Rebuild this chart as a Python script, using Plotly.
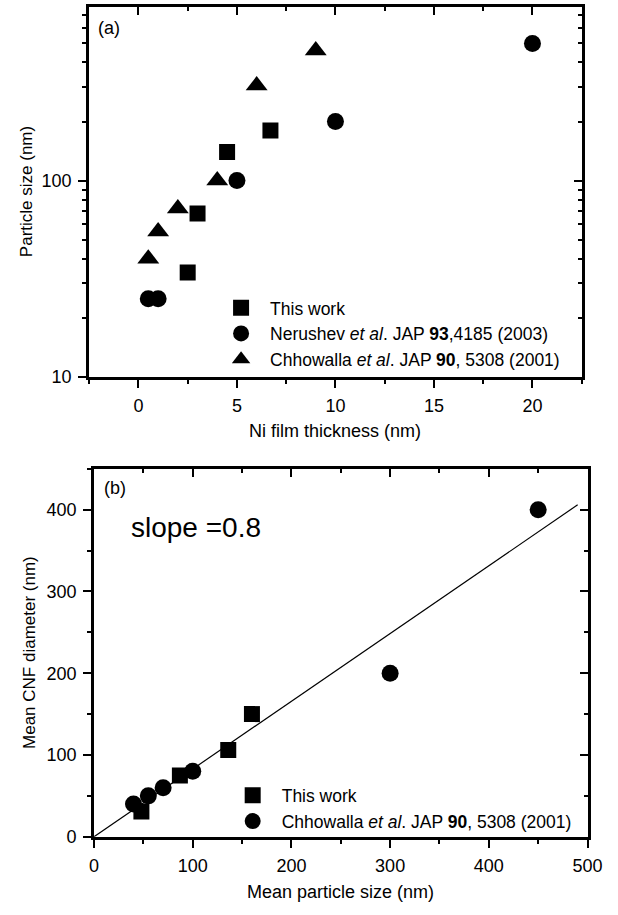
import plotly.graph_objects as go

# ---------------- data: panel (a) ----------------
this_work_thk = [2.5, 3.0, 4.5, 6.7]
this_work_size = [34, 68, 140, 180]
nerushev_thk = [0.5, 1.0, 5.0, 10.0, 20.0]
nerushev_size = [25, 25, 100, 200, 500]
chhowalla_thk = [0.5, 1.0, 2.0, 4.0, 6.0, 9.0]
chhowalla_size = [40, 55, 72, 100, 305, 460]

# ---------------- data: panel (b) ----------------
b_this_work_particle = [48, 87, 136, 160]
b_this_work_cnf = [31, 75, 106, 150]
b_chhowalla_particle = [40, 55, 70, 100, 300, 450]
b_chhowalla_cnf = [40, 50, 60, 80, 200, 400]
fit_particle = [0, 490]
fit_cnf = [0, 406]

W, H = 618, 915
FONT = "Liberation Sans, Arial, Helvetica, sans-serif"
BLACK = "#000000"

def px(x):
    return x / W

def py(y):
    return 1 - y / H

leg1_a = "This work"
leg2_a = "Nerushev <i>et al</i>. JAP <b>93</b>,4185 (2003)"
leg3_a = "Chhowalla <i>et al</i>. JAP <b>90</b>, 5308 (2001)"

fig = go.Figure()

# panel (a)
fig.add_trace(go.Scatter(x=this_work_thk, y=this_work_size, mode="markers", name=leg1_a,
                         marker=dict(symbol="square", size=16, color=BLACK),
                         xaxis="x", yaxis="y", legend="legend"))
fig.add_trace(go.Scatter(x=nerushev_thk, y=nerushev_size, mode="markers", name=leg2_a,
                         marker=dict(symbol="circle", size=17, color=BLACK),
                         xaxis="x", yaxis="y", legend="legend"))
fig.add_trace(go.Scatter(x=chhowalla_thk, y=chhowalla_size, mode="markers", name=leg3_a,
                         marker=dict(symbol="triangle-up", size=19, color=BLACK),
                         xaxis="x", yaxis="y", legend="legend"))
# dummy for overlay axes of (a)
fig.add_trace(go.Scatter(x=[], y=[], xaxis="x3", yaxis="y3", showlegend=False, hoverinfo="skip"))

# panel (b)
fig.add_trace(go.Scatter(x=fit_particle, y=fit_cnf, mode="lines", showlegend=False,
                         line=dict(color=BLACK, width=1.2), xaxis="x2", yaxis="y2"))
fig.add_trace(go.Scatter(x=b_this_work_particle, y=b_this_work_cnf, mode="markers", name="This work",
                         marker=dict(symbol="square", size=16, color=BLACK),
                         xaxis="x2", yaxis="y2", legend="legend2"))
fig.add_trace(go.Scatter(x=b_chhowalla_particle, y=b_chhowalla_cnf, mode="markers", name=leg3_a,
                         marker=dict(symbol="circle", size=17, color=BLACK),
                         xaxis="x2", yaxis="y2", legend="legend2"))
fig.add_trace(go.Scatter(x=[], y=[], xaxis="x4", yaxis="y4", showlegend=False, hoverinfo="skip"))

tickfont = dict(family=FONT, size=18, color=BLACK)

def main_axis(**kw):
    d = dict(showgrid=False, zeroline=False, showline=True, linewidth=3, linecolor=BLACK,
             mirror=True, ticks="outside", ticklen=8, tickwidth=2, tickcolor=BLACK,
             tickfont=tickfont, ticklabelstandoff=3)
    d.update(kw)
    return d

def overlay_axis(**kw):
    d = dict(showgrid=False, zeroline=False, showline=False, ticks="inside", ticklen=8,
             tickwidth=2, tickcolor=BLACK, showticklabels=False)
    d.update(kw)
    return d

xa_dom = [px(87), px(596)]
ya_dom = [py(381), py(7)]
xb_dom = [px(92), px(602)]
yb_dom = [py(846), py(474)]

xa_range = [-2.5, 22.5]
ya_range = [1, 2.885]
xb_range = [0, 500]
yb_range = [0, 450]

minor_out = lambda dt: dict(dtick=dt, ticks="outside", ticklen=4, tickwidth=2, tickcolor=BLACK)
minor_in = lambda dt: dict(dtick=dt, ticks="inside", ticklen=4, tickwidth=2, tickcolor=BLACK)

legfont = dict(family=FONT, size=17.5, color=BLACK)

fig.update_layout(
    width=W, height=H,
    margin=dict(l=0, r=0, t=0, b=0),
    paper_bgcolor="white", plot_bgcolor="white",
    font=dict(family=FONT, color=BLACK),
    xaxis=main_axis(domain=xa_dom, anchor="y", range=xa_range, tick0=0, dtick=5,
                    minor=minor_out(2.5)),
    yaxis=main_axis(domain=ya_dom, anchor="x", type="log", range=ya_range, dtick=1,
                    minor=minor_out("D1")),
    xaxis3=overlay_axis(domain=xa_dom, anchor="y", overlaying="x", side="top", range=xa_range,
                        tick0=0, dtick=5, minor=minor_in(2.5)),
    yaxis3=overlay_axis(domain=ya_dom, anchor="x", overlaying="y", side="right", type="log",
                        range=ya_range, dtick=1, minor=minor_in("D1")),
    xaxis2=main_axis(domain=xb_dom, anchor="y2", range=xb_range, tick0=0, dtick=100,
                     minor=minor_out(50)),
    yaxis2=main_axis(domain=yb_dom, anchor="x2", range=yb_range, tick0=0, dtick=100,
                     minor=minor_out(50)),
    xaxis4=overlay_axis(domain=xb_dom, anchor="y2", overlaying="x2", side="top", range=xb_range,
                        tick0=0, dtick=100, minor=minor_in(50)),
    yaxis4=overlay_axis(domain=yb_dom, anchor="x2", overlaying="y2", side="right",
                        range=yb_range, tick0=0, dtick=100, minor=minor_in(50)),
    legend=dict(x=px(214), y=py(293), xanchor="left", yanchor="top",
                bgcolor="rgba(0,0,0,0)", borderwidth=0, itemwidth=48,
                font=legfont, itemsizing="trace", tracegroupgap=0),
    legend2=dict(x=px(226), y=py(786), xanchor="left", yanchor="top",
                 bgcolor="rgba(0,0,0,0)", borderwidth=0, itemwidth=48,
                 font=legfont, itemsizing="trace", tracegroupgap=0),
    showlegend=True,
)

ann = []
def text(x, y, s, size, xanchor="center", angle=0):
    ann.append(dict(x=px(x), y=py(y), xref="paper", yref="paper", text=s, showarrow=False,
                    xanchor=xanchor, yanchor="middle", textangle=angle,
                    font=dict(family=FONT, size=size, color=BLACK)))

text(23, 194, "Particle size (nm)", 17, angle=-90)
text(341, 436, "Ni film thickness (nm)", 18)
text(26, 660, "Mean CNF diameter (nm)", 17, angle=-90)
text(347, 902, "Mean particle size (nm)", 18)
text(94, 28, "(a)", 18, xanchor="left")
text(100, 493, "(b)", 18, xanchor="left")
text(128, 533, "slope =0.8", 28, xanchor="left")

fig.update_layout(annotations=ann)

fig.write_html("out.html")
